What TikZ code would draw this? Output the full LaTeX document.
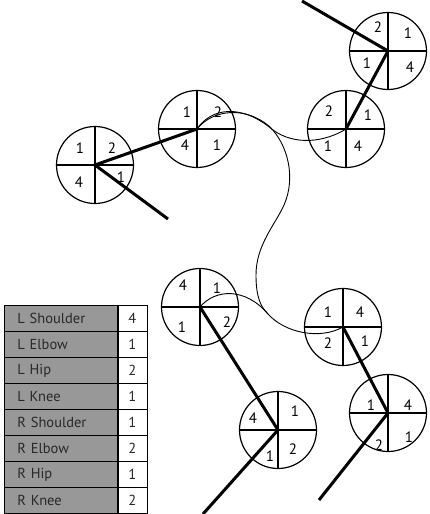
\documentclass[tikz,border=0pt]{standalone}
\usepackage{fontspec}
\setmainfont{PT Sans}
\definecolor{tabgray}{RGB}{152,152,152}
\definecolor{tabtext}{RGB}{40,40,40}
\begin{document}
\begin{tikzpicture}[x=1pt,y=-1pt,
  joint/.style={circle,draw,line width=1.2pt,minimum size=77pt,inner sep=0pt},
  limb/.style={line width=3pt},
  trail/.style={line width=0.9pt},
  num/.style={font=\fontsize{15}{15}\selectfont,inner sep=0pt},
  lbl/.style={rectangle,draw,line width=0.8pt,fill=tabgray,text=tabtext,anchor=north west,
    inner xsep=13pt,inner ysep=0pt,text width=87pt,align=left,minimum height=26pt,
    font=\fontsize{14.5}{15}\selectfont},
  val/.style={rectangle,draw,line width=0.8pt,fill=white,text=tabtext,anchor=north west,
    inner sep=0pt,minimum width=30pt,minimum height=26pt,font=\fontsize{14.5}{15}\selectfont}
]
\useasboundingbox (0,0) rectangle (430,514);

% joints
\node[joint] (c1) at (388,51) {};
\node[joint] (c2) at (346,129) {};
\node[joint] (c3) at (197,129) {};
\node[joint] (c4) at (95,165) {};
\node[joint] (c5) at (200,307) {};
\node[joint] (c6) at (343,327) {};
\node[joint] (c7) at (388,413) {};
\node[joint] (c8) at (278,430) {};

% quadrant lines
\foreach \c in {c1,c2,c3,c4,c5,c6,c7,c8}{
  \draw[line width=1.2pt] (\c.north) -- (\c.south);
  \draw[line width=1.2pt] (\c.west) -- (\c.east);
}

% free ends of limbs
\coordinate (t1) at (302,1);
\coordinate (t4) at (168,219);
\coordinate (t8) at (203,514);
\coordinate (t7) at (319,500);
\coordinate (m) at (268,314);
\coordinate (k) at (270,127);

% thin trails
\draw[trail] (c3.center) .. controls (211,108) and (241,103) .. (273,130)
  .. controls (295,146) and (325,142) .. (c2.center);
\draw[trail] (c3.center) .. controls (212,110) and (245,105) .. (k)
  .. controls (288,145) and (296,178) .. (284,205)
  .. controls (275,225) and (256,245) .. (256,275)
  .. controls (256,298) and (261,307) .. (m);
\draw[trail] (c5.center) .. controls (215,289) and (245,287) .. (m)
  .. controls (285,333) and (320,340) .. (c6.center);

% limbs
\draw[limb] (t1) -- (c1.center) -- (c2.center);
\draw[limb] (c3.center) -- (c4.center) -- (t4);
\draw[limb] (c5.center) -- (c8.center) -- (t8);
\draw[limb] (c6.center) -- (c7.center) -- (t7);

% numbers
\node[num] at (378,27) {2}; \node[num] at (408,33) {1};
\node[num] at (367,63) {1}; \node[num] at (410,67) {4};
\node[num] at (329,111) {2}; \node[num] at (368,115) {1};
\node[num] at (328,146) {1}; \node[num] at (358,146) {4};
\node[num] at (187,112) {1}; \node[num] at (218,112) {2};
\node[num] at (185,145) {4}; \node[num] at (217,145) {1};
\node[num] at (80,148) {1}; \node[num] at (112,148) {2};
\node[num] at (79,182) {4}; \node[num] at (121,177) {1};
\node[num] at (183,285) {4}; \node[num] at (217,288) {1};
\node[num] at (182,327) {1}; \node[num] at (227,322) {2};
\node[num] at (328,312) {1}; \node[num] at (360,312) {4};
\node[num] at (328,343) {2}; \node[num] at (365,341) {1};
\node[num] at (371,405) {1}; \node[num] at (408,405) {4};
\node[num] at (379,445) {2}; \node[num] at (409,437) {1};
\node[num] at (253,418) {4}; \node[num] at (295,411) {1};
\node[num] at (270,456) {1}; \node[num] at (293,449) {2};

% table
\foreach \n/\v [count=\i] in {L Shoulder/4,L Elbow/1,L Hip/2,L Knee/1,R Shoulder/1,R Elbow/2,R Hip/1,R Knee/2}{
  \node[lbl] (r\i) at (4,{305+26*(\i-1)}) {\n};
  \node[val] (v\i) at (117,{305+26*(\i-1)}) {\v};
}
\draw[line width=2pt] (r1.north east) -- (r8.south east);
\end{tikzpicture}
\end{document}
